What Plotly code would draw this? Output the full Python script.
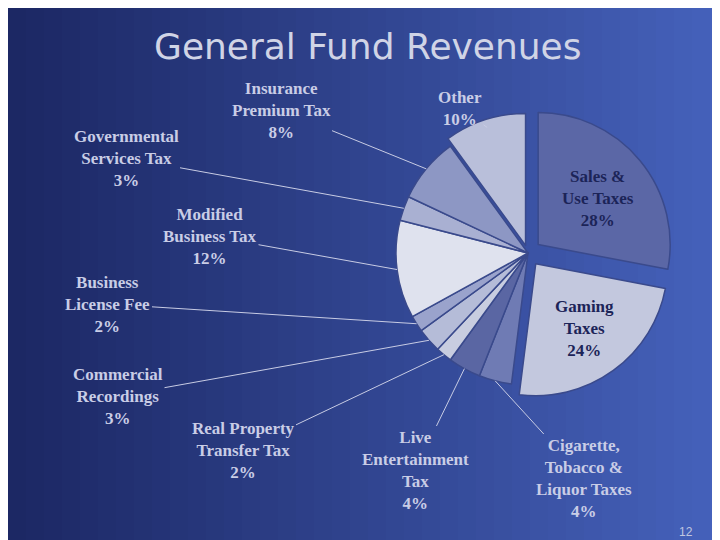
import math
import plotly.graph_objects as go

labels = ["Sales &<br>Use Taxes", "Gaming<br>Taxes", "Cigarette,<br>Tobacco &<br>Liquor Taxes",
          "Live<br>Entertainment<br>Tax", "Real Property<br>Transfer Tax", "Commercial<br>Recordings",
          "Business<br>License Fee", "Modified<br>Business Tax", "Governmental<br>Services Tax",
          "Insurance<br>Premium Tax", "Other"]
values = [28, 24, 4, 4, 2, 3, 2, 12, 3, 8, 10]
colors = ["#5b67a6", "#c3c8de", "#6f7bb4", "#5a66a3", "#c8cde0", "#b5bcd8", "#9aa3cc",
          "#dfe2ee", "#a9b0d2", "#8d97c4", "#b9bfda"]
pulls = [0.1, 0.1, 0, 0, 0, 0, 0, 0, 0, 0, 0.06]

# label centres in pixels (layout)
label_px = [(590, 190), (576, 320), (576, 470), (407, 462), (235, 442), (110, 388),
            (100, 296), (202, 228), (118, 150), (273, 102), (452, 100)]
inside = [True, True] + [False] * 9

W, H = 720, 540
cx, cy, r = 520, 245, 132
rd = r * 1.1  # domain radius, pulled slices shrink the pie

fig = go.Figure()
fig.add_trace(go.Pie(labels=labels, values=values, sort=False, direction="clockwise",
                     rotation=0, textinfo="none", pull=pulls, hoverinfo="label+percent",
                     marker=dict(colors=colors, line=dict(color="#3a4a8c", width=1.5)),
                     domain=dict(x=[(cx - rd) / W, (cx + rd) / W], y=[1 - (cy + rd) / H, 1 - (cy - rd) / H]),
                     showlegend=False))

# background gradient
shapes = []
n = 40
for i in range(n):
    t = i / (n - 1)
    c = (int(28 + t * 42), int(40 + t * 58), int(100 + t * 88))
    shapes.append(dict(type="rect", xref="paper", yref="paper", x0=i / n, x1=(i + 1) / n + 0.002,
                       y0=0, y1=1, line=dict(width=0), fillcolor="rgb(%d,%d,%d)" % c, layer="below"))

annotations = []
total = sum(values)
cum = 0
for lab, v, (lx, ly), ins in zip(labels, values, label_px, inside):
    mid = (cum + v / 2) / total * 2 * math.pi
    cum += v
    text = "<b>%s<br>%d%%</b>" % (lab, v)
    if ins:
        annotations.append(dict(text=text, x=lx / W, y=1 - ly / H, xref="paper", yref="paper",
                                xanchor="center", yanchor="middle", showarrow=False,
                                font=dict(family="Liberation Serif", size=17, color="#1c2458")))
        continue
    tx = cx + r * math.sin(mid)
    ty = cy - r * math.cos(mid)
    annotations.append(dict(text=text, x=tx / W, y=1 - ty / H, xref="paper", yref="paper",
                            ax=lx - tx, ay=ly - ty, showarrow=True, arrowhead=0, arrowwidth=1,
                            arrowcolor="#c8cce4", standoff=0,
                            font=dict(family="Liberation Serif", size=17, color="#c9cde6")))

annotations.append(dict(text="General Fund Revenues", x=360 / W, y=1 - 38 / H, xref="paper", yref="paper",
                        xanchor="center", yanchor="middle", showarrow=False,
                        font=dict(family="DejaVu Sans", size=36, color="#d0d4e6")))
annotations.append(dict(text="12", x=678 / W, y=1 - 524 / H, xref="paper", yref="paper",
                        xanchor="center", yanchor="middle", showarrow=False,
                        font=dict(family="Liberation Sans", size=12, color="#c0c6e0")))

fig.update_layout(width=W, height=H, margin=dict(l=0, r=0, t=0, b=0),
                  paper_bgcolor="#2a3a84", shapes=shapes, annotations=annotations)
fig.write_html("out.html")
